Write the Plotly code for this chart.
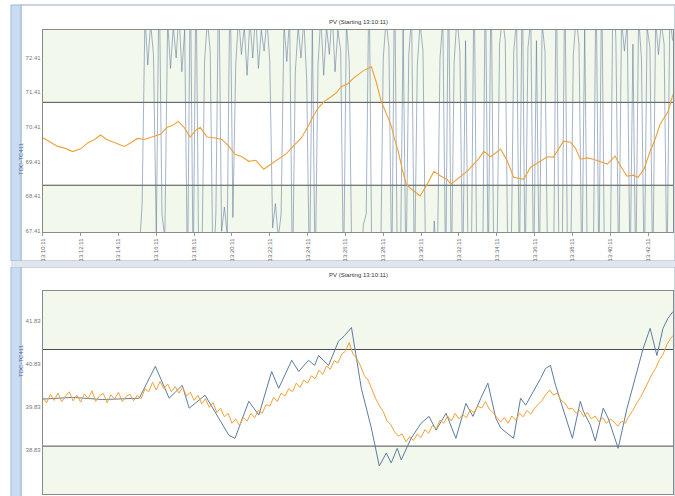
import plotly.graph_objects as go

# ---------------- data ----------------
# time axis: minutes after 13:10:11
tick_minutes = [0, 2, 4, 6, 8, 10, 12, 14, 16, 18, 20, 22, 24, 26, 28, 30, 32]
tick_labels = ["13:10:11", "13:12:11", "13:14:11", "13:16:11", "13:18:11", "13:20:11",
               "13:22:11", "13:24:11", "13:26:11", "13:28:11", "13:30:11", "13:32:11",
               "13:34:11", "13:36:11", "13:38:11", "13:40:11", "13:42:11"]

top_ticks = [67.41, 68.41, 69.41, 70.41, 71.41, 72.41]
bot_ticks = [37.83, 38.83, 39.83, 40.83, 41.83]

top_band = [68.73, 71.12]
bot_band = [38.92, 41.16]

# top panel, orange PV trace
top_orange_t = [0, 0.42, 0.79, 1.16, 1.58, 2.0, 2.37, 2.74, 3.05, 3.37, 3.68, 4.0, 4.32, 4.63, 5.0,
                5.37, 5.79, 6.21, 6.58, 6.84, 7.16, 7.47, 7.79, 8.05, 8.32, 8.68, 9.05, 9.47, 9.84,
                10.16, 10.53, 10.89, 11.26, 11.68, 12.1, 12.47, 12.89, 13.32, 13.68, 14.05, 14.32,
                14.58, 14.89, 15.26, 15.53, 15.79, 16.11, 16.47, 16.74, 17.0, 17.21, 17.37, 17.63,
                17.89, 18.16, 18.42, 18.63, 18.79, 19.0, 19.21, 19.42, 19.63, 19.95, 20.26, 20.68,
                21.05, 21.37, 21.58, 21.84, 22.11, 22.47, 22.79, 23.05, 23.32, 23.68, 24.21, 24.58,
                24.89, 25.16, 25.42, 25.79, 26.32, 26.68, 27.0, 27.26, 27.53, 27.89, 28.16, 28.42,
                28.79, 29.11, 29.47, 29.84, 30.26, 30.53, 30.89, 31.21, 31.47, 31.79, 32.11, 32.37,
                32.63, 32.89, 33.05, 33.32]
top_orange_v = [70.10, 69.98, 69.85, 69.80, 69.70, 69.78, 69.95, 70.05, 70.18, 70.05, 69.98, 69.90,
                69.85, 69.95, 70.08, 70.05, 70.12, 70.20, 70.40, 70.45, 70.57, 70.40, 70.12, 70.30,
                70.40, 70.12, 70.10, 70.05, 69.85, 69.62, 69.55, 69.42, 69.45, 69.19, 69.35, 69.48,
                69.65, 69.90, 70.10, 70.45, 70.75, 70.97, 71.15, 71.29, 71.40, 71.58, 71.65, 71.84,
                71.95, 72.05, 72.10, 72.15, 71.70, 71.15, 70.80, 70.45, 70.00, 69.71, 69.20, 68.76,
                68.65, 68.56, 68.42, 68.70, 69.13, 68.99, 68.90, 68.76, 68.88, 68.99, 69.15, 69.34,
                69.50, 69.71, 69.55, 69.77, 69.40, 68.96, 68.92, 68.90, 69.25, 69.42, 69.55, 69.54,
                69.75, 70.00, 69.97, 69.80, 69.48, 69.52, 69.48, 69.40, 69.34, 69.57, 69.30, 68.99,
                69.02, 68.96, 69.20, 69.71, 70.05, 70.48, 70.70, 70.85, 71.35]

# top panel, blue trace (sampled every 0.15 min from 5.1 min)
top_blue_start = 5.1
top_blue_step = 0.15
top_blue_v = [66.8, 68.2,
              73.6, 72.2, 73.4, 72.5,
              67.3, 75.0, 67.9, 67.2,
              73.5, 72.1, 73.3, 72.4, 73.7, 72.0, 73.2,
              66.0, 75.0, 66.0, 75.0, 66.0, 66.0,
              72.3, 73.5, 72.6,
              66.0,
              67.9, 75.0, 67.4, 68.1, 67.3, 75.0, 67.8,
              72.2, 73.6, 72.5, 73.3, 71.9, 73.5, 72.4, 73.7, 72.1, 73.2, 72.6, 73.5, 72.3,
              67.5, 68.2, 67.2, 67.9,
              73.4, 72.3, 73.6, 66.0, 72.0, 73.3, 72.4, 73.5, 71.8, 66.0, 73.4, 66.0, 72.2, 73.6,
              71.9, 73.3, 72.5, 73.7, 72.0, 73.2, 72.6, 66.0, 73.4, 72.3,
              66.0, 66.0, 66.0, 66.0, 67.6, 67.9, 75.0, 66.0, 66.0, 66.0, 66.0,
              72.4, 73.5, 72.7,
              66.0, 75.0, 66.0, 66.0,
              73.3, 66.0, 72.5, 73.6, 66.0, 72.2, 73.4, 72.6, 66.0,
              66.0, 66.0, 67.7, 66.0,
              72.4, 73.5,
              66.0, 75.0, 66.0,
              72.3, 73.6, 72.6, 66.0, 72.9,
              66.0, 66.0, 75.0, 66.0, 66.0, 66.0, 75.0, 66.0, 75.0, 66.0, 66.0,
              72.8, 73.6, 72.9,
              66.0, 66.0,
              72.6, 73.5,
              66.0, 75.0, 66.0,
              72.7, 73.5, 66.0, 72.9, 66.0, 73.4, 72.6,
              66.0, 66.0, 66.0, 75.0, 66.0, 66.0, 75.0, 66.0, 66.0,
              72.5, 73.6, 72.8, 66.0, 73.3,
              66.0, 66.0, 66.0, 75.0, 66.0, 75.0, 66.0, 66.0, 66.0, 75.0,
              72.9, 66.0, 73.5, 72.6, 73.4, 66.0, 72.8, 66.0, 73.6, 72.4, 66.0, 73.3, 72.7, 66.0,
              73.5, 72.5, 73.4, 72.8, 66.0, 73.6, 72.9]

# bottom panel, orange trace (sampled every 0.2 min)
bot_orange_step = 0.2
bot_orange_v = [40.05, 39.92, 40.12, 39.98, 40.15, 39.95, 40.08, 40.18, 39.97, 40.10, 39.94, 40.13,
                40.02, 40.20, 39.96, 40.09, 40.14, 39.93, 40.11, 40.01, 40.17, 39.95, 40.07, 40.12,
                39.97, 40.10,
                40.02, 40.25, 40.18, 40.40,
                40.22, 40.42, 40.25, 40.36, 40.18, 40.30,
                40.15, 40.28, 40.08, 40.17, 39.98, 40.10, 39.90,
                40.02, 39.82, 39.93, 39.70, 39.80,
                39.60, 39.68, 39.45, 39.55,
                39.40, 39.58, 39.50, 39.68, 39.58,
                39.75, 39.68, 39.88, 39.85, 40.05,
                39.95, 40.15, 40.08, 40.25, 40.18, 40.38,
                40.28, 40.45, 40.38, 40.55, 40.48, 40.68,
                40.58, 40.78, 40.70, 40.90, 40.85, 41.05,
                41.12, 41.32,
                41.05, 40.95,
                40.78, 40.55, 40.45,
                40.22, 40.02, 39.85,
                39.72, 39.50, 39.42, 39.25,
                39.15, 39.20, 39.02,
                39.14, 39.05, 39.20,
                39.12, 39.30, 39.22, 39.40,
                39.32, 39.52, 39.45, 39.62,
                39.50, 39.68, 39.55, 39.65,
                39.58, 39.76, 39.70, 39.85,
                39.80, 39.95,
                39.78, 39.70, 39.58, 39.48,
                39.58, 39.45, 39.62, 39.52, 39.68,
                39.60, 39.75, 39.66, 39.80,
                39.90, 39.98, 40.12, 40.22,
                40.10, 40.15, 39.98,
                39.92, 39.78, 39.80,
                39.68, 39.75, 39.60, 39.70,
                39.55, 39.62, 39.48, 39.58,
                39.45, 39.55, 39.48,
                39.38, 39.50, 39.45,
                39.62, 39.75, 39.92,
                40.05, 40.22, 40.40,
                40.58, 40.72, 40.92,
                41.05, 41.28, 41.42,
                41.52]

# bottom panel, blue trace
bot_blue_t = [0, 1.58, 3.16, 5.1, 5.5, 5.95, 6.68, 7.37, 7.74, 8.58, 9.84, 10.16, 10.89, 11.42,
              12.1, 12.47, 13.16, 13.53, 14.05, 14.37, 14.58, 15.11, 15.63, 15.95, 16.32, 16.84,
              17.37, 17.79, 18.16, 18.42, 18.74, 18.95, 19.47, 20.0, 20.42, 20.79, 21.32, 21.84,
              22.37, 22.74, 23.16, 23.53, 23.95, 24.21, 24.89, 25.26, 25.53, 25.95, 26.32, 26.58,
              26.84, 27.11, 28.0, 28.42, 28.58, 28.95, 29.21, 29.63, 29.89, 30.42, 30.89, 31.74,
              32.11, 32.47, 32.79, 33.05, 33.32]
bot_blue_v = [40.01, 40.05, 40.00, 40.03, 40.38, 40.77, 40.03, 40.33, 39.80, 40.10, 39.17, 39.10,
              39.96, 39.64, 40.65, 40.26, 40.91, 40.65, 40.91, 40.79, 41.02, 40.79, 41.35, 41.48,
              41.67, 40.26, 39.34, 38.46, 38.76, 38.53, 38.87, 38.60, 39.10, 39.45, 39.61, 39.29,
              39.68, 39.10, 39.91, 39.61, 40.03, 40.38, 39.57, 39.34, 39.10, 40.03, 39.87, 40.19,
              40.49, 40.72, 40.79, 40.33, 39.10, 39.96, 39.73, 39.41, 39.04, 39.80, 39.57, 38.87,
              39.80, 41.18, 41.65, 41.02, 41.65, 41.88, 42.04]

title_text = "PV (Starting 13:10:11)"
axis_label = "TDC-TC411"

# ---------------- figure ----------------
W, H = 675, 496
X_RANGE = [0, 33.32]
TOP_RANGE = [67.38, 73.21]
BOT_RANGE = [37.81, 42.52]

ORANGE = "#efa136"
BLUE = "#5d7c9f"
BAND = "#f3f8ec"
FONT = "Liberation Sans"

def px(xp):
    return xp / W

def py(yp):
    return 1 - yp / H

top_blue_t = [round(top_blue_start + top_blue_step * i, 3) for i in range(len(top_blue_v))]
bot_orange_t = [round(bot_orange_step * i, 3) for i in range(len(bot_orange_v))]

fig = go.Figure()
fig.add_trace(go.Scatter(x=top_blue_t, y=top_blue_v, mode="lines", xaxis="x", yaxis="y",
                         line=dict(color="rgba(80,112,150,0.75)", width=0.7), hoverinfo="skip"))
fig.add_trace(go.Scatter(x=top_orange_t, y=top_orange_v, mode="lines", xaxis="x", yaxis="y",
                         line=dict(color=ORANGE, width=1.1)))
fig.add_trace(go.Scatter(x=bot_blue_t, y=bot_blue_v, mode="lines", xaxis="x2", yaxis="y2",
                         line=dict(color=BLUE, width=1)))
fig.add_trace(go.Scatter(x=bot_orange_t, y=bot_orange_v, mode="lines", xaxis="x2", yaxis="y2",
                         line=dict(color=ORANGE, width=1)))

xdom = [px(40), px(673)]
axis_common = dict(showgrid=False, zeroline=False, showline=True, mirror=True,
                   linecolor="#8a8a8a", linewidth=1)

fig.update_layout(
    width=W, height=H,
    margin=dict(l=0, r=0, t=0, b=0),
    paper_bgcolor="white", plot_bgcolor="white",
    showlegend=False,
    font=dict(family=FONT, size=6, color="#666666"),
    xaxis=dict(domain=xdom, range=X_RANGE, anchor="y", tickvals=tick_minutes, ticktext=tick_labels,
               tickangle=-90, ticks="outside", ticklen=3, tickcolor="#999999",
               tickfont=dict(size=6, color="#666666"), **axis_common),
    yaxis=dict(domain=[py(233), py(30)], range=TOP_RANGE, anchor="x", tickvals=top_ticks,
               ticktext=[f"{v:.2f}" for v in top_ticks], ticks="", tickfont=dict(size=6, color="#777777"),
               **axis_common),
    xaxis2=dict(domain=xdom, range=X_RANGE, anchor="y2", tickvals=tick_minutes, showticklabels=False,
                ticks="", **axis_common),
    yaxis2=dict(domain=[0, py(292)], range=BOT_RANGE, anchor="x2", tickvals=bot_ticks,
                ticktext=[f"{v:.2f}" for v in bot_ticks], ticks="", tickfont=dict(size=6, color="#777777"),
                **axis_common),
)

shapes = []
# panel frames and left strips (paper coordinates)
for (y0, y1) in [(5, 262), (268, 500)]:
    shapes.append(dict(type="rect", xref="paper", yref="paper", x0=px(18), x1=px(675),
                       y0=py(y1), y1=py(y0), line=dict(color="#b9c5d3", width=1.5),
                       fillcolor="rgba(0,0,0,0)", layer="below"))
    shapes.append(dict(type="rect", xref="paper", yref="paper", x0=px(8), x1=px(18),
                       y0=py(y1), y1=py(y0), line=dict(color="#9fbbd9", width=1),
                       fillcolor="#c9dcf1", layer="below"))
shapes.append(dict(type="rect", xref="paper", yref="paper", x0=px(8), x1=px(675),
                   y0=py(268), y1=py(262), line=dict(width=0), fillcolor="#dfe6ee", layer="below"))

# limit bands
for xr, yr, band, rng in [("x", "y", top_band, TOP_RANGE), ("x2", "y2", bot_band, BOT_RANGE)]:
    shapes.append(dict(type="rect", xref=xr, yref=yr, x0=X_RANGE[0], x1=X_RANGE[1],
                       y0=band[1], y1=rng[1], fillcolor=BAND, line=dict(width=0), layer="below"))
    shapes.append(dict(type="rect", xref=xr, yref=yr, x0=X_RANGE[0], x1=X_RANGE[1],
                       y0=rng[0], y1=band[0], fillcolor=BAND, line=dict(width=0), layer="below"))
    for b in band:
        shapes.append(dict(type="line", xref=xr, yref=yr, x0=X_RANGE[0], x1=X_RANGE[1],
                           y0=b, y1=b, line=dict(color="#4d4d4d", width=1), layer="below"))
fig.update_layout(shapes=shapes)

annotations = []
for ty in [17, 276]:
    annotations.append(dict(text=title_text, xref="paper", yref="paper", x=px(357), y=py(ty),
                            showarrow=False, font=dict(size=6, color="#333333", family=FONT)))
for ly in [140, 380]:
    annotations.append(dict(text=axis_label, xref="paper", yref="paper", x=px(13), y=py(ly),
                            showarrow=False, textangle=-90,
                            font=dict(size=6, color="#4a6fa5", family=FONT)))
fig.update_layout(annotations=annotations)

fig.write_html("out.html", config={"displayModeBar": False},
               post_script="document.body.style.margin='0';document.body.style.overflow='hidden';")
